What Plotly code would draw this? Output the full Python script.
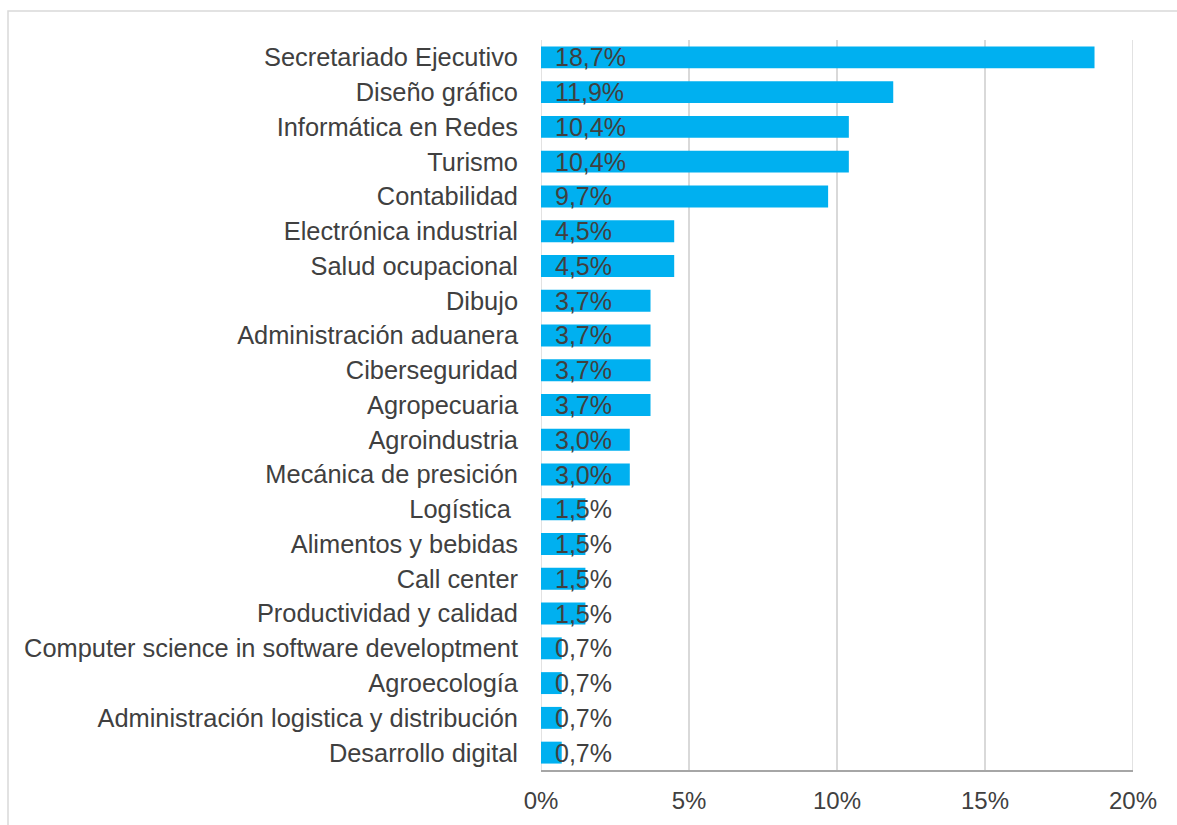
import plotly.graph_objects as go

# Careers and share of graduates (%), listed top to bottom
careers = [
    "Secretariado Ejecutivo",
    "Diseño gráfico",
    "Informática en Redes",
    "Turismo",
    "Contabilidad",
    "Electrónica industrial",
    "Salud ocupacional",
    "Dibujo",
    "Administración aduanera",
    "Ciberseguridad",
    "Agropecuaria",
    "Agroindustria",
    "Mecánica de presición",
    "Logística\u00a0",
    "Alimentos y bebidas",
    "Call center",
    "Productividad y calidad",
    "Computer science in software developtment",
    "Agroecología",
    "Administración logistica y distribución",
    "Desarrollo digital",
]
shares = [18.7, 11.9, 10.4, 10.4, 9.7, 4.5, 4.5, 3.7, 3.7, 3.7, 3.7,
          3.0, 3.0, 1.5, 1.5, 1.5, 1.5, 0.7, 0.7, 0.7, 0.7]
x_ticks = [0, 5, 10, 15, 20]
x_tick_text = ["0%", "5%", "10%", "15%", "20%"]

text_color = "#404040"
font_family = "Liberation Sans, Arial, sans-serif"
grid_color = "#d9d9d9"

labels = [f"{v:.1f}".replace(".", ",") + "%" for v in shares]

fig = go.Figure()
fig.add_trace(go.Bar(
    y=careers,
    x=shares,
    orientation="h",
    marker=dict(color="#00B0F0", line=dict(width=0)),
    width=0.63,
    hoverinfo="x+y",
))

# Value labels anchored at the bar base
annotations = [
    dict(
        x=0, y=c, xref="x", yref="y",
        text=t, showarrow=False,
        xanchor="left", yanchor="middle",
        xshift=12,
        font=dict(size=25, color=text_color, family=font_family),
    )
    for c, t in zip(careers, labels)
]

W, H = 1177, 825
ml, mr, mt, mb = 541, 44, 40, 55
pw, ph = W - ml - mr, H - mt - mb

def px_to_paper_x(px):
    return (px - ml) / pw

def px_to_paper_y(py):
    return (H - mb - py) / ph

shapes = [dict(
    type="rect",
    xref="paper", yref="paper",
    x0=px_to_paper_x(8), x1=px_to_paper_x(1190),
    y0=px_to_paper_y(840), y1=px_to_paper_y(11),
    line=dict(color=grid_color, width=1.5),
    fillcolor="rgba(0,0,0,0)",
    layer="below",
)]
# Gridlines on the range edges
for xv in (x_ticks[0], x_ticks[-1]):
    shapes.append(dict(
        type="line", xref="x", yref="paper",
        x0=xv, x1=xv, y0=0, y1=1,
        line=dict(color=grid_color, width=1.5),
        layer="below",
    ))

fig.update_layout(
    width=W,
    height=H,
    margin=dict(l=ml, r=mr, t=mt, b=mb, autoexpand=False),
    plot_bgcolor="white",
    paper_bgcolor="white",
    showlegend=False,
    font=dict(family=font_family, size=25, color=text_color),
    xaxis=dict(
        range=[0, 20],
        tickmode="array",
        tickvals=x_ticks,
        ticktext=x_tick_text,
        showgrid=True,
        gridcolor=grid_color,
        gridwidth=1.5,
        zeroline=False,
        showline=True,
        linecolor="#a6a6a6",
        linewidth=1.5,
        ticks="",
        ticklabelstandoff=8,
        tickfont=dict(size=24, color=text_color),
        fixedrange=True,
    ),
    yaxis=dict(
        categoryorder="array",
        categoryarray=careers[::-1],
        autorange=False,
        range=[-0.5, len(careers) - 0.5],
        showgrid=False,
        zeroline=False,
        showline=False,
        ticks="",
        ticklabelstandoff=22,
        tickfont=dict(size=25.4, color=text_color),
        fixedrange=True,
    ),
    shapes=shapes,
    annotations=annotations,
)

fig.write_html("out.html")
